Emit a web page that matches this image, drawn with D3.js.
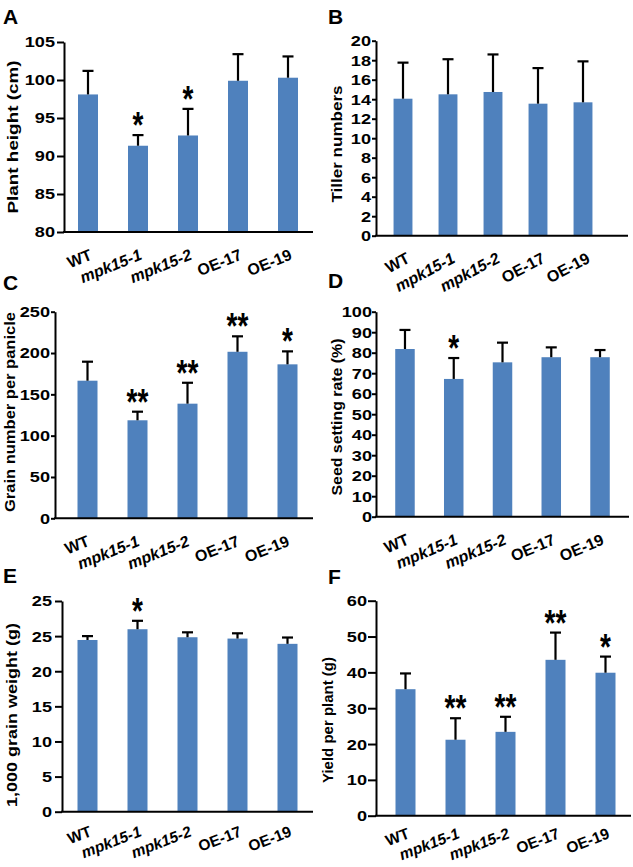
<!DOCTYPE html>
<html>
<head>
<meta charset="utf-8">
<script src="https://cdn.jsdelivr.net/npm/d3@7"></script>
<style>
  html, body { margin: 0; padding: 0; background: #fff; }
  svg { display: block; font-family: "Liberation Sans", Arial, sans-serif; }
</style>
</head>
<body>
<svg id="chart" width="633" height="867"></svg>
<script>
// ---------------- DATA ----------------
const categories = ["WT", "mpk15-1", "mpk15-2", "OE-17", "OE-19"];

const plantHeight      = [98.1, 91.35, 92.7, 99.9, 100.3];
const plantHeightErr   = [3.1, 1.4, 3.5, 3.5, 2.8];
const plantHeightSig   = ["", "*", "*", "", ""];
const plantHeightTicks = [80, 85, 90, 95, 100, 105];

const tillerNumbers    = [14.05, 14.5, 14.74, 13.54, 13.68];
const tillerErr        = [3.7, 3.6, 3.85, 3.65, 4.2];
const tillerSig        = ["", "", "", "", ""];
const tillerTicks      = [0, 2, 4, 6, 8, 10, 12, 14, 16, 18, 20];

const grainNumber      = [166.5, 118.6, 138.7, 201.5, 186.3];
const grainNumberErr   = [23, 10.4, 25.3, 18.7, 15.7];
const grainNumberSig   = ["", "**", "**", "**", "*"];
const grainNumberTicks = [0, 50, 100, 150, 200, 250];

const seedSetting      = [81.8, 67.2, 75.3, 77.8, 77.8];
const seedSettingErr   = [9.3, 10.2, 9.6, 4.8, 3.5];
const seedSettingSig   = ["", "*", "", "", ""];
const seedSettingTicks = [0, 10, 20, 30, 40, 50, 60, 70, 80, 90, 100];

const grainWeight      = [24.45, 25.98, 24.84, 24.65, 23.9];
const grainWeightErr   = [0.55, 1.2, 0.7, 0.75, 0.9];
const grainWeightSig   = ["", "*", "", "", ""];
const grainWeightTicks = [0, 5, 10, 15, 20, 25, 30];
const grainWeightTickLabels = ["0", "5", "10", "15", "20", "25", "25"];

const yieldPerPlant    = [35.3, 21.2, 23.4, 43.5, 39.9];
const yieldErr         = [4.4, 6.0, 4.2, 7.6, 4.5];
const yieldSig         = ["", "**", "**", "**", "*"];
const yieldTicks       = [0, 10, 20, 30, 40, 50, 60];

const panelLetters = ["A", "B", "C", "D", "E", "F"];
const yTitles = ["Plant height (cm)", "Tiller numbers", "Grain number per panicle",
                 "Seed setting rate (%)", "1,000 grain weight (g)", "Yield per plant (g)"];

// ---------------- LAYOUT ----------------
const panels = [
  { values: plantHeight, err: plantHeightErr, sig: plantHeightSig, ticks: plantHeightTicks, labels: null,
    axisX: 64, yTop: 42, yBot: 232, bandStart: 63, bandEnd: 313, pad: 0.6, lineEnd: 313,
    tickLen: 7, tickPad: 2, letterX: 3, letterY: 24, tX: 12, tY: 137, tLen: 153, rot: -22, ldx: 5, ldy: 27, fs: 16 },
  { values: tillerNumbers, err: tillerErr, sig: tillerSig, ticks: tillerTicks, labels: null,
    axisX: 376, yTop: 40.7, yBot: 235.7, bandStart: 380.5, bandEnd: 605.5, pad: 0.58, lineEnd: 628,
    tickLen: 4, tickPad: 1, letterX: 328, letterY: 24, tX: 336, tY: 144, tLen: 117, rot: -28, ldx: 8, ldy: 26, fs: 16 },
  { values: grainNumber, err: grainNumberErr, sig: grainNumberSig, ticks: grainNumberTicks, labels: null,
    axisX: 55, yTop: 311.7, yBot: 518.3, bandStart: 62.5, bandEnd: 312.5, pad: 0.6, lineEnd: 313,
    tickLen: 4, tickPad: 1, letterX: 3, letterY: 290, tX: 9, tY: 412, tLen: 200, rot: -22, ldx: 3, ldy: 27, fs: 16 },
  { values: seedSetting, err: seedSettingErr, sig: seedSettingSig, ticks: seedSettingTicks, labels: null,
    axisX: 376, yTop: 311.7, yBot: 516.7, bandStart: 380.6, bandEnd: 624.4, pad: 0.6, lineEnd: 629,
    tickLen: 4, tickPad: 0, letterX: 328, letterY: 288, tX: 336, tY: 417, tLen: 157, rot: -23, ldx: 5, ldy: 27, fs: 16 },
  { values: grainWeight, err: grainWeightErr, sig: grainWeightSig, ticks: grainWeightTicks, labels: grainWeightTickLabels,
    axisX: 62, yTop: 601, yBot: 811.7, bandStart: 62.5, bandEnd: 312.5, pad: 0.6, lineEnd: 313,
    tickLen: 7, tickPad: 3, letterX: 3, letterY: 583, tX: 11, tY: 715, tLen: 184, rot: -21, ldx: 5, ldy: 24, fs: 15.5 },
  { values: yieldPerPlant, err: yieldErr, sig: yieldSig, ticks: yieldTicks, labels: null,
    axisX: 376, yTop: 600.7, yBot: 815.7, bandStart: 380.5, bandEnd: 630.5, pad: 0.6, lineEnd: 631,
    tickLen: 8, tickPad: 1, letterX: 328, letterY: 584, tX: 327, tY: 720, tLen: 126, rot: -21, ldx: 5, ldy: 22, fs: 15.5 }
];

const BAR_COLOR = "#4f81bd";
const svg = d3.select("#chart");
svg.append("rect").attr("width", 633).attr("height", 867).attr("fill", "#fff");

function stretch(sel, k) {
  sel.each(function () {
    const L = this.getComputedTextLength();
    if (L > 0) {
      this.setAttribute("textLength", (L * k).toFixed(2));
      this.setAttribute("lengthAdjust", "spacingAndGlyphs");
    }
  });
}

panels.forEach((p, pi) => {
  const g = svg.append("g");
  const ticks = p.ticks;
  const y = d3.scaleLinear().domain([ticks[0], ticks[ticks.length - 1]]).range([p.yBot, p.yTop]);
  const x = d3.scaleBand().domain(categories).range([p.bandStart, p.bandEnd]).paddingInner(p.pad).paddingOuter(p.pad / 2);

  // bars
  g.selectAll("rect.bar").data(categories).join("rect")
    .attr("class", "bar")
    .attr("x", d => x(d))
    .attr("width", x.bandwidth())
    .attr("y", (d, i) => y(p.values[i]))
    .attr("height", (d, i) => y(ticks[0]) - y(p.values[i]))
    .attr("fill", BAR_COLOR);

  // error bars (upper only)
  const cx = d => x(d) + x.bandwidth() / 2;
  const eb = g.append("g").attr("stroke", "#000").attr("stroke-width", 2.2);
  eb.selectAll("line.v").data(categories).join("line")
    .attr("x1", cx).attr("x2", cx)
    .attr("y1", (d, i) => y(p.values[i]))
    .attr("y2", (d, i) => y(p.values[i] + p.err[i]));
  eb.selectAll("line.c").data(categories).join("line")
    .attr("x1", d => cx(d) - 5.5).attr("x2", d => cx(d) + 5.5)
    .attr("y1", (d, i) => y(p.values[i] + p.err[i]))
    .attr("y2", (d, i) => y(p.values[i] + p.err[i]));

  // significance stars
  g.selectAll("text.sig").data(categories).join("text")
    .attr("class", "sig")
    .attr("transform", (d, i) => `translate(${cx(d)},${y(p.values[i] + p.err[i]) + 3}) scale(1,1.3)`)
    .attr("text-anchor", "middle")
    .attr("font-size", 28).attr("font-weight", "bold")
    .text((d, i) => p.sig[i]);

  // y axis
  const yAxis = d3.axisLeft(y).tickValues(ticks)
    .tickFormat((d, i) => p.labels ? p.labels[i] : d)
    .tickSize(p.tickLen).tickSizeOuter(0).tickPadding(p.tickPad);
  const ya = g.append("g").attr("transform", `translate(${p.axisX},0)`).call(yAxis);
  ya.select(".domain").attr("stroke", "#000").attr("stroke-width", 2);
  ya.selectAll(".tick line").attr("stroke", "#000").attr("stroke-width", 2);
  ya.selectAll(".tick text").attr("font-size", 15.5).attr("font-weight", "bold")
    .attr("fill", "#000").attr("font-family", "Liberation Sans, Arial, sans-serif");
  stretch(ya.selectAll(".tick text"), 1.17);

  // x axis line
  g.append("line").attr("x1", p.axisX - 1).attr("x2", p.lineEnd)
    .attr("y1", y(ticks[0])).attr("y2", y(ticks[0]))
    .attr("stroke", "#000").attr("stroke-width", 2);

  // x labels
  const xAxis = d3.axisBottom(x).tickSize(0).tickPadding(0);
  const xa = g.append("g").attr("transform", `translate(0,${y(ticks[0])})`).call(xAxis);
  xa.select(".domain").remove();
  xa.selectAll(".tick text")
    .attr("font-size", p.fs).attr("font-weight", "bold").attr("fill", "#000")
    .attr("font-family", "Liberation Sans, Arial, sans-serif")
    .attr("font-style", d => d.startsWith("mpk") ? "italic" : "normal")
    .attr("text-anchor", "end")
    .attr("dy", null).attr("y", null)
    .attr("transform", `translate(${p.ldx},${p.ldy}) rotate(${p.rot})`);

  // y title
  g.append("text")
    .attr("transform", `translate(${p.tX},${p.tY}) rotate(-90)`)
    .attr("text-anchor", "middle").attr("dominant-baseline", "central")
    .attr("font-size", 15).attr("font-weight", "bold")
    .attr("textLength", p.tLen).attr("lengthAdjust", "spacingAndGlyphs")
    .text(yTitles[pi]);

  // panel letter
  g.append("text").attr("x", p.letterX).attr("y", p.letterY)
    .attr("font-size", 21).attr("font-weight", "bold")
    .text(panelLetters[pi]);
});
</script>
</body>
</html>
